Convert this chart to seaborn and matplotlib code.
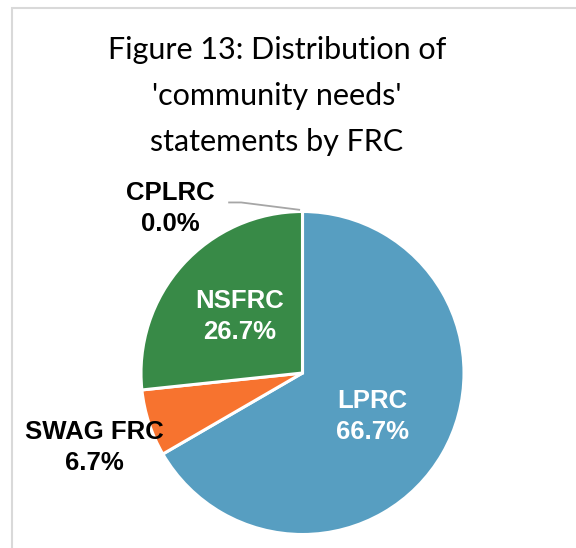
import numpy as np
import matplotlib
matplotlib.use("Agg")
import matplotlib.pyplot as plt
from matplotlib.patches import Rectangle
import seaborn as sns

# FRC shares of 'community needs' statements (percent)
categories = ["LPRC", "SWAG FRC", "NSFRC", "CPLRC"]
shares = [66.7, 6.7, 26.7, 0.0]
slice_colors = ["#579EC1", "#F7732F", "#388A47", "#A5A5A5"]

sns.set_theme(style="white")
plt.rcParams["font.family"] = ["Liberation Sans", "DejaVu Sans"]

fig = plt.figure(figsize=(5.76, 5.48), dpi=100)
fig.patch.set_facecolor("white")

# light chart-area frame
fig.add_artist(Rectangle((12 / 576, -0.1), 1.2, (548 - 8) / 548 + 0.1,
                         transform=fig.transFigure, fill=False,
                         edgecolor="#D9D9D9", linewidth=1.5))

R_PX = 161.5
cx, cy = 302.5, 548 - 373
half = 1.1 * R_PX
ax = fig.add_axes([(cx - half) / 576, (cy - half) / 548,
                   2 * half / 576, 2 * half / 548])

wedges, _ = ax.pie(shares, colors=slice_colors, startangle=90,
                   counterclock=False, radius=1.0,
                   wedgeprops=dict(edgecolor="white", linewidth=2.2))
ax.set_xlim(-1.1, 1.1)
ax.set_ylim(-1.1, 1.1)
ax.set_aspect("equal")
ax.axis("off")


def mid_point(w, r):
    a = np.deg2rad((w.theta1 + w.theta2) / 2)
    return r * np.cos(a), r * np.sin(a)


lab_font = dict(fontsize=18.5, fontweight="bold", ha="center", va="center",
                linespacing=1.38)

# inside labels
x, y = mid_point(wedges[0], 0.5)
ax.text(x, y - 0.02, f"{categories[0]}\n{shares[0]:.1f}%", color="white", **lab_font)
x, y = mid_point(wedges[2], 0.525)
ax.text(x, y, f"{categories[2]}\n{shares[2]:.1f}%", color="white", **lab_font)

# outside labels
x, y = mid_point(wedges[1], 1.355)
ax.text(x, y - 0.04, f"{categories[1]}\n{shares[1]:.1f}%", color="black",
        clip_on=False, **lab_font)
ax.text(-0.82, 1.02, f"{categories[3]}\n{shares[3]:.1f}%", color="black",
        clip_on=False, **lab_font)
ax.plot([-0.46, -0.38, -0.015], [1.056, 1.056, 1.01], color="#A6A6A6",
        linewidth=1.3, clip_on=False, solid_capstyle="butt")

fig.text(277 / 576, 1 - 96 / 548,
         "Figure 13: Distribution of\n'community needs'\nstatements by FRC",
         ha="center", va="center", fontsize=22, family=["Lato", "DejaVu Sans"],
         linespacing=1.78, color="black")

fig.savefig("out.png", dpi=100, facecolor="white")
